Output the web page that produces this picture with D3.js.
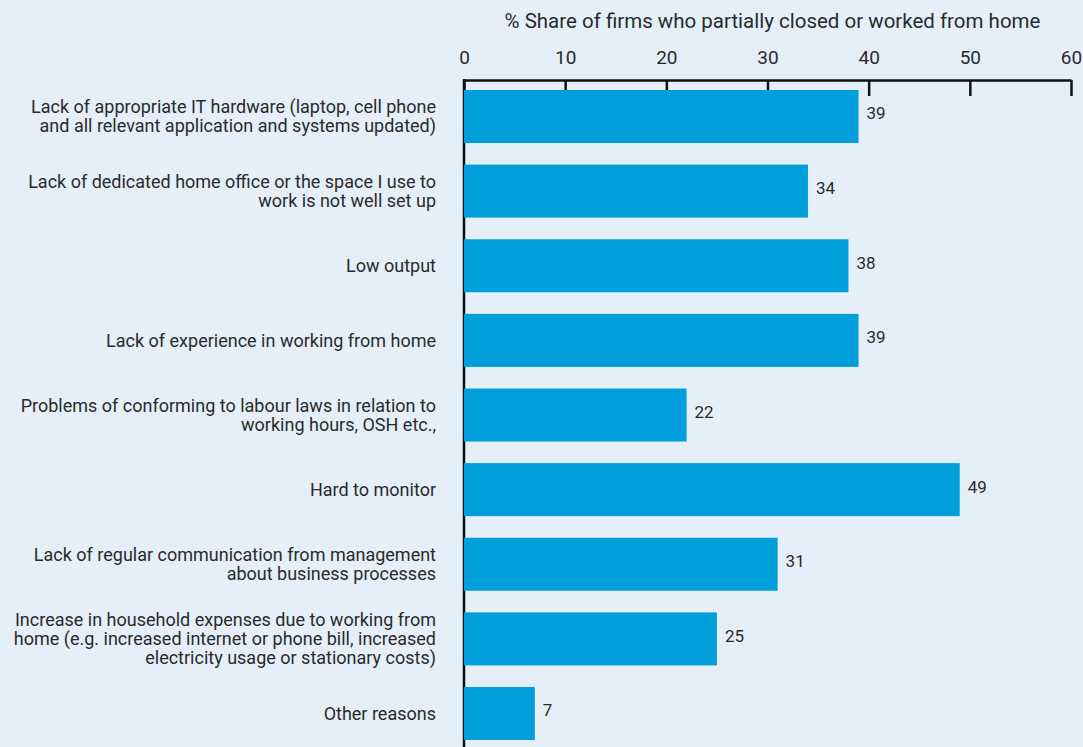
<!DOCTYPE html>
<html>
<head>
<meta charset="utf-8">
<script src="https://cdn.jsdelivr.net/npm/d3@7"></script>
<style>
  html, body { margin: 0; padding: 0; background: #e5eff9; }
  svg { display: block; }
  text { font-family: Roboto, "Noto Sans", sans-serif; fill: #2a2a2a; }
</style>
</head>
<body>
<svg id="chart" width="1083" height="747"></svg>
<script>
// Reasons firms gave for difficulties with working from home
const categories = [
  ["Lack of appropriate IT hardware (laptop, cell phone", "and all relevant application and systems updated)"],
  ["Lack of dedicated home office or the space I use to", "work is not well set up"],
  ["Low output"],
  ["Lack of experience in working from home"],
  ["Problems of conforming to labour laws in relation to", "working hours, OSH etc.,"],
  ["Hard to monitor"],
  ["Lack of regular communication from management", "about business processes"],
  ["Increase in household expenses due to working from", "home (e.g. increased internet or phone bill, increased", "electricity usage or stationary costs)"],
  ["Other reasons"]
];
const values = [39, 34, 38, 39, 22, 49, 31, 25, 7];
const tickValues = [0, 10, 20, 30, 40, 50, 60];
const axisTitle = "% Share of firms who partially closed or worked from home";

const svg = d3.select("#chart");
const plotLeft = 464, plotRight = 1071, plotTop = 90, plotBottom = 740, axisY = 80;

const x = d3.scaleLinear().domain([0, 60]).range([plotLeft, plotRight]);
const y = d3.scaleBand()
  .domain(d3.range(values.length))
  .range([plotTop, plotBottom])
  .paddingInner(0.29)
  .paddingOuter(0);

// axis title
svg.append("text")
  .attr("x", (plotLeft + plotRight) / 2 + 5)
  .attr("y", 28)
  .attr("text-anchor", "middle")
  .style("font-size", "20.5px")
  .text(axisTitle);

// top axis
const axis = d3.axisTop(x).tickValues(tickValues).tickSize(-16).tickPadding(0).tickSizeOuter(0);
const gx = svg.append("g").attr("transform", `translate(0,${axisY})`).call(axis);
gx.select(".domain").attr("stroke", "#111").attr("stroke-width", 2.5);
gx.selectAll(".tick line").attr("stroke", "#111").attr("stroke-width", 2.5);
gx.selectAll(".tick text")
  .attr("y", -16)
  .attr("dy", 0)
  .style("font-size", "19px")
  .attr("fill", "#2a2a2a");

// vertical baseline
svg.append("line")
  .attr("x1", x(0)).attr("x2", x(0))
  .attr("y1", axisY - 1).attr("y2", 747)
  .attr("stroke", "#111").attr("stroke-width", 2.5);

// bars
svg.append("g").selectAll("rect")
  .data(values)
  .join("rect")
  .attr("x", x(0))
  .attr("y", (d, i) => y(i))
  .attr("width", d => x(d) - x(0))
  .attr("height", y.bandwidth())
  .attr("fill", "#009edb");

// value labels
svg.append("g").selectAll("text")
  .data(values)
  .join("text")
  .attr("x", d => x(d) + 8)
  .attr("y", (d, i) => y(i) + y.bandwidth() / 2 - 3)
  .attr("dy", "0.35em")
  .style("font-size", "17px")
  .text(d => d);

// category labels, multi-line, centred on each bar
const lineH = 19;
const labels = svg.append("g").selectAll("text")
  .data(categories)
  .join("text")
  .attr("text-anchor", "end")
  .style("font-size", "18px")
  .attr("transform", (d, i) => `translate(436,${y(i) + y.bandwidth() / 2})`);
labels.each(function(lines) {
  const t = d3.select(this);
  const offset = -(lines.length - 1) * lineH / 2;
  lines.forEach((ln, k) => {
    t.append("tspan")
      .attr("x", 0)
      .attr("y", offset + k * lineH)
      .attr("dy", "0.35em")
      .text(ln);
  });
});
</script>
</body>
</html>
